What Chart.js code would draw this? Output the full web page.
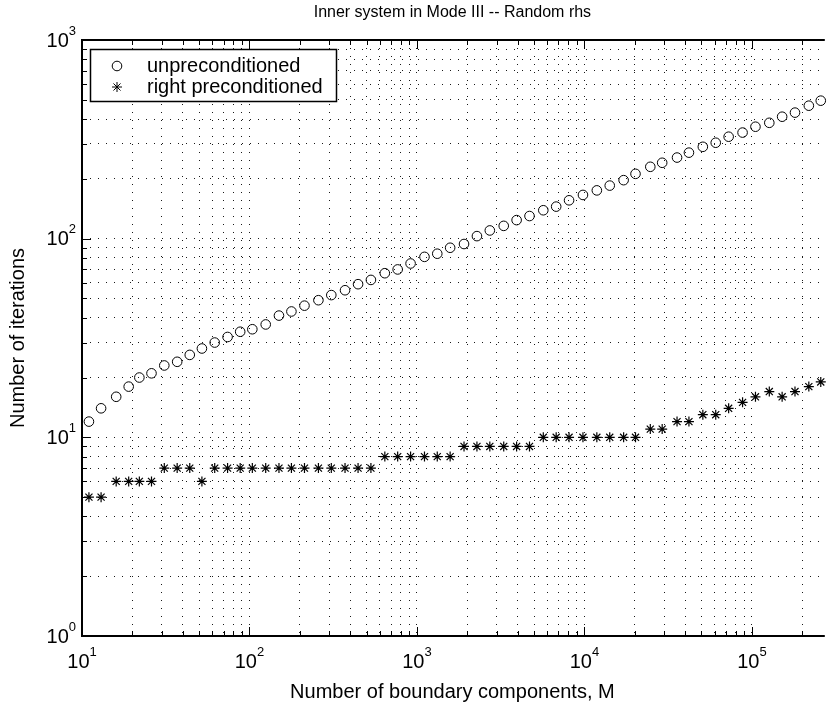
<!DOCTYPE html>
<html>
<head>
<meta charset="utf-8">
<script src="https://cdn.jsdelivr.net/npm/chart.js@4.4.1/dist/chart.umd.min.js"></script>
<style>
  html, body { margin: 0; padding: 0; background: #fff; }
</style>
</head>
<body>
<canvas id="chart" width="829" height="705"></canvas>
<script>
// number of boundary components M
const boundaryCounts = [11, 13, 16, 19, 22, 26, 31, 37, 44, 52,
    62, 74, 88, 104, 125, 150, 178, 213, 258, 308,
    372, 445, 531, 643, 767, 916, 1109, 1322, 1578, 1910,
    2281, 2723, 3297, 3936, 4699, 5680, 6781, 8094, 9799, 11860,
    14160, 17140, 20180, 24730, 29120, 35720, 42070, 50930, 60810, 72620,
    87940, 105000, 127000, 151500, 180800, 218700, 257700];

// iterations, one value per M
const unpreconditioned = [12, 14, 16, 18, 20, 21, 23, 24, 26, 28,
    30, 32, 34, 35, 37, 41, 43, 46, 49, 52,
    55, 59, 62, 67, 70, 75, 81, 84, 90, 94,
    103, 110, 116, 124, 130, 139, 145, 156, 166, 175,
    185, 197, 212, 230, 241, 256, 271, 290, 304, 326,
    342, 366, 383, 411, 431, 467, 495];

const rightPreconditioned = [5, 5, 6, 6, 6, 6, 7, 7, 7, 6,
    7, 7, 7, 7, 7, 7, 7, 7, 7, 7,
    7, 7, 7, 8, 8, 8, 8, 8, 8, 9,
    9, 9, 9, 9, 9, 10, 10, 10, 10, 10,
    10, 10, 10, 11, 11, 12, 12, 13, 13, 14,
    15, 16, 17, 16, 17, 18, 19];

const seriesNames = ['unpreconditioned', 'right preconditioned'];
const xTickExponents = [1, 2, 3, 4, 5];
const yTickExponents = [0, 1, 2, 3];

const xMin = 10, xMax = 2.65e5;
const yMin = 1, yMax = 1000;

const FONT_FAMILY = '"Liberation Sans", Arial, Helvetica, sans-serif';
const BASE_FONT = '20px ' + FONT_FAMILY;
const TITLE_FONT = '16px ' + FONT_FAMILY;
const SUP_FONT = '13px ' + FONT_FAMILY;

// 1..9 x 10^n inside [min, max], like a matlab log grid
function logTicks(min, max) {
    var out = [];
    for (var e = Math.floor(Math.log10(min)); e <= Math.ceil(Math.log10(max)); e++) {
        for (var k = 1; k < 10; k++) {
            var v = k * Math.pow(10, e);
            if (v >= min && v <= max) out.push(v);
        }
    }
    return out;
}

function toPoints(xs, ys) {
    return xs.map(function (x, i) { return {x: x, y: ys[i]}; });
}

function drawPower(ctx, exp, x, y, align) {
    ctx.font = BASE_FONT;
    var w10 = ctx.measureText('10').width;
    ctx.font = SUP_FONT;
    var we = ctx.measureText(String(exp)).width;
    var left = align === 'center' ? x - (w10 + we) / 2 : x - (w10 + we);
    ctx.textAlign = 'left';
    ctx.textBaseline = 'middle';
    ctx.font = BASE_FONT;
    ctx.fillText('10', left, y);
    ctx.font = SUP_FONT;
    ctx.fillText(String(exp), left + w10, y - 10);
}

const matlabFrame = {
    id: 'matlabFrame',
    afterDraw(chart) {
        var ctx = chart.ctx;
        var area = chart.chartArea;
        var xs = chart.scales.x, ys = chart.scales.y;
        ctx.save();
        ctx.fillStyle = '#000';
        ctx.strokeStyle = '#000';

        // inward tick marks
        ctx.lineWidth = 1;
        ctx.beginPath();
        logTicks(yMin, yMax).forEach(function (v) {
            var py = Math.round(ys.getPixelForValue(v)) + 0.5;
            var len = Number.isInteger(Math.log10(v)) ? 9 : 5;
            ctx.moveTo(area.left, py);
            ctx.lineTo(area.left + len, py);
        });
        logTicks(xMin, xMax).forEach(function (v) {
            var px = Math.round(xs.getPixelForValue(v)) + 0.5;
            var len = Number.isInteger(Math.log10(v)) ? 9 : 5;
            ctx.moveTo(px, area.bottom);
            ctx.lineTo(px, area.bottom - len);
            ctx.moveTo(px, area.top);
            ctx.lineTo(px, area.top + len);
        });
        ctx.stroke();

        // axes box
        ctx.lineWidth = 2;
        ctx.beginPath();
        ctx.moveTo(area.right + 2, area.top);
        ctx.lineTo(area.left, area.top);
        ctx.lineTo(area.left, area.bottom);
        ctx.lineTo(area.right + 2, area.bottom);
        ctx.stroke();

        // tick labels
        xTickExponents.forEach(function (e) {
            drawPower(ctx, e, xs.getPixelForValue(Math.pow(10, e)), area.bottom + 26, 'center');
        });
        yTickExponents.forEach(function (e) {
            drawPower(ctx, e, area.left - 6, ys.getPixelForValue(Math.pow(10, e)) + 1, 'right');
        });

        // title and axis labels
        var cx = (area.left + area.right) / 2;
        ctx.textAlign = 'center';
        ctx.textBaseline = 'middle';
        ctx.font = TITLE_FONT;
        ctx.fillText('Inner system in Mode III -- Random rhs', cx, 13);
        ctx.font = BASE_FONT;
        ctx.fillText('Number of boundary components, M', cx, 692);
        ctx.save();
        ctx.translate(18, (area.top + area.bottom) / 2);
        ctx.rotate(-Math.PI / 2);
        ctx.fillText('Number of iterations', 0, 0);
        ctx.restore();

        // legend box
        ctx.fillStyle = '#fff';
        ctx.fillRect(90, 49, 246, 52);
        ctx.lineWidth = 1.5;
        ctx.strokeRect(90.5, 49.5, 246, 52);
        chart.data.datasets.forEach(function (ds, i) {
            var ly = 66 + i * 21;
            ctx.strokeStyle = '#000';
            ctx.lineWidth = 1;
            Chart.helpers.drawPoint(ctx, {
                pointStyle: ds.pointStyle, radius: ds.pointRadius,
                borderWidth: 1, rotation: 0
            }, 117, ly);
            ctx.fillStyle = '#000';
            ctx.font = BASE_FONT;
            ctx.textAlign = 'left';
            ctx.textBaseline = 'middle';
            ctx.fillText(ds.label, 147, ly);
        });
        ctx.restore();
    }
};

const gridStyle = {color: 'rgba(0,0,0,0.9)', lineWidth: 1, drawTicks: false};

new Chart(document.getElementById('chart'), {
    type: 'scatter',
    data: {
        datasets: [{
            label: seriesNames[0],
            data: toPoints(boundaryCounts, unpreconditioned),
            pointStyle: 'circle',
            pointRadius: 4.8,
            borderWidth: 1,
            borderColor: '#000',
            backgroundColor: 'rgba(0,0,0,0)',
            clip: false
        }, {
            label: seriesNames[1],
            data: toPoints(boundaryCounts, rightPreconditioned),
            pointStyle: 'star',
            pointRadius: 5,
            borderWidth: 1.2,
            borderColor: '#000',
            backgroundColor: '#000',
            clip: false
        }]
    },
    options: {
        responsive: false,
        animation: false,
        devicePixelRatio: 1,
        layout: {padding: {left: 82, right: 0, top: 40, bottom: 69}},
        plugins: {legend: {display: false}, title: {display: false}, tooltip: {enabled: false}},
        scales: {
            x: {
                type: 'logarithmic', min: xMin, max: xMax,
                afterBuildTicks: function (s) { s.ticks = logTicks(xMin, xMax).map(function (v) { return {value: v}; }); },
                afterFit: function (s) { s.height = 0; },
                ticks: {display: false},
                grid: gridStyle,
                border: {display: false, dash: [1, 7]}
            },
            y: {
                type: 'logarithmic', min: yMin, max: yMax,
                afterBuildTicks: function (s) { s.ticks = logTicks(yMin, yMax).map(function (v) { return {value: v}; }); },
                afterFit: function (s) { s.width = 0; },
                ticks: {display: false},
                grid: gridStyle,
                border: {display: false, dash: [1, 7]}
            }
        }
    },
    plugins: [matlabFrame]
});
</script>
</body>
</html>
